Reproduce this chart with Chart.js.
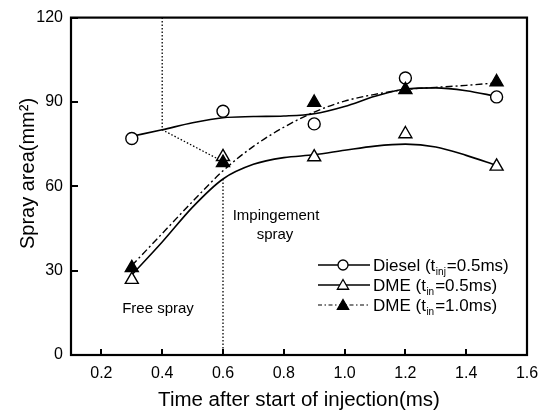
<!DOCTYPE html>
<html><head><meta charset="utf-8">
<script src="https://cdn.jsdelivr.net/npm/chart.js@4/dist/chart.umd.min.js"></script>
<style>html,body{margin:0;padding:0;background:#fff;}canvas{display:block;}</style>
</head><body>
<canvas id="c" width="552" height="413" style="width:552px;height:413px"></canvas>
<script>
// ---- data ----
const xTicks = [0.2, 0.4, 0.6, 0.8, 1.0, 1.2, 1.4, 1.6];
const yTicks = [0, 30, 60, 90, 120];

// measured points
const timePts = [0.3, 0.6, 0.9, 1.2, 1.5];
const dieselPts = [77, 86.7, 82.2, 98.5, 91.8];
const dme05Pts = [26.8, 70.5, 70.4, 78.6, 67.1];
const dme10Pts = [31, 68.4, 89.8, 94.3, 97.1];

// fitted curves (as drawn in the reference)
const curveX = [0.3, 0.4, 0.5, 0.6, 0.7, 0.8, 0.9, 1.0, 1.1, 1.2, 1.3, 1.4, 1.5];
const dieselCurve = [77.8, 80.1, 82.6, 84.4, 84.8, 85.0, 85.8, 88.4, 92.0, 94.6, 95.0, 94.0, 92.0];
const dme05Curve = [28.5, 40.2, 52.6, 62.6, 67.8, 70.2, 71.2, 72.8, 74.3, 75.0, 74.0, 71.0, 67.4];
const dme10Curve = [31.8, 43.2, 54.6, 65.5, 74.2, 81.0, 86.4, 90.3, 92.7, 94.4, 95.2, 95.9, 96.8];

// guide lines (free spray / impingement boundary)
const guide1X = [0.4, 0.4, 0.6];
const guide1Y = [120, 80.1, 68.8];
const guide2X = [0.6, 0.6];
const guide2Y = [62.6, 0];

const seriesLabels = ['Diesel', 'DME', 'DME'];
const seriesSubs = ['inj', 'in', 'in'];
const seriesTail = ['=0.5ms)', '=0.5ms)', '=1.0ms)'];

const FONT = "'Liberation Sans', Arial, sans-serif";
const pts = (xs, ys) => xs.map((x, i) => ({x: x, y: ys[i]}));

const lineBase = {showLine: true, pointRadius: 0, borderColor: '#000', backgroundColor: '#000', fill: false, order: 2};

const datasets = [
  Object.assign({}, lineBase, {label: 'g1', data: pts(guide1X, guide1Y), borderWidth: 1.3, borderDash: [1.5, 2], tension: 0, order: 3}),
  Object.assign({}, lineBase, {label: 'g2', data: pts(guide2X, guide2Y), borderWidth: 1.3, borderDash: [1.5, 2], tension: 0, order: 3}),
  Object.assign({}, lineBase, {label: 'dc', data: pts(curveX, dieselCurve), borderWidth: 1.6, cubicInterpolationMode: 'monotone'}),
  Object.assign({}, lineBase, {label: 'd05c', data: pts(curveX, dme05Curve), borderWidth: 1.6, cubicInterpolationMode: 'monotone'}),
  Object.assign({}, lineBase, {label: 'd10c', data: pts(curveX, dme10Curve), borderWidth: 1.4, borderDash: [7, 3, 2, 3], cubicInterpolationMode: 'monotone'}),
  {label: 'Diesel', data: pts(timePts, dieselPts), showLine: false, pointStyle: 'circle', pointRadius: 6, pointBorderWidth: 1.4, pointBorderColor: '#000', pointBackgroundColor: '#fff', order: 1},
  {label: 'DME05', data: pts(timePts, dme05Pts), showLine: false, pointStyle: 'triangle', pointRadius: 7.5, pointBorderWidth: 1.4, pointBorderColor: '#000', pointBackgroundColor: '#fff', order: 1},
  {label: 'DME10', data: pts(timePts, dme10Pts), showLine: false, pointStyle: 'triangle', pointRadius: 7.5, pointBorderWidth: 1.4, pointBorderColor: '#000', pointBackgroundColor: '#000', order: 0}
];

function drawMarker(ctx, style, x, y, r, fill) {
  ctx.save();
  ctx.lineWidth = 1.3; ctx.strokeStyle = '#000'; ctx.fillStyle = fill;
  ctx.beginPath();
  if (style === 'circle') {
    ctx.arc(x, y, r, 0, Math.PI * 2);
  } else {
    ctx.moveTo(x, y - r);
    ctx.lineTo(x + r * Math.sin(2 * Math.PI / 3), y - r * Math.cos(2 * Math.PI / 3));
    ctx.lineTo(x + r * Math.sin(4 * Math.PI / 3), y - r * Math.cos(4 * Math.PI / 3));
    ctx.closePath();
  }
  ctx.fill(); ctx.stroke();
  ctx.restore();
}

const decor = {
  id: 'decor',
  afterDraw(chart) {
    const ctx = chart.ctx, a = chart.chartArea;
    const xs = chart.scales.x, ys = chart.scales.y;
    ctx.save();
    // frame
    ctx.strokeStyle = '#000'; ctx.lineWidth = 2.2;
    ctx.strokeRect(a.left, a.top, a.right - a.left, a.bottom - a.top);
    // inward ticks
    ctx.lineWidth = 2;
    ctx.beginPath();
    xTicks.forEach(v => {
      const px = Math.round(xs.getPixelForValue(v));
      ctx.moveTo(px, a.bottom); ctx.lineTo(px, a.bottom - 6);
    });
    yTicks.forEach(v => {
      const py = Math.round(ys.getPixelForValue(v));
      ctx.moveTo(a.left, py); ctx.lineTo(a.left + 7, py);
    });
    ctx.stroke();

    // annotation texts
    ctx.fillStyle = '#000';
    ctx.font = '15px ' + FONT;
    ctx.textAlign = 'center'; ctx.textBaseline = 'middle';
    ctx.fillText('Impingement', 276, 216);
    ctx.fillText('spray', 275, 235);
    ctx.fillText('Free spray', 158, 309);

    // y title
    ctx.save();
    ctx.translate(28, 173.5);
    ctx.rotate(-Math.PI / 2);
    ctx.font = '20px ' + FONT;
    ctx.textAlign = 'center'; ctx.textBaseline = 'middle';
    ctx.fillText('Spray area(mm\u00B2)', 0, 0);
    ctx.restore();

    // legend
    const rowsY = [265, 285, 305];
    const styles = ['circle', 'triangle', 'triangle'];
    const fills = ['#fff', '#fff', '#000'];
    rowsY.forEach((y, i) => {
      ctx.save();
      ctx.strokeStyle = '#000';
      ctx.lineWidth = i === 2 ? 1.2 : 1.5;
      if (i === 2) ctx.setLineDash([4, 2.5, 1.5, 2.5]);
      ctx.beginPath(); ctx.moveTo(318, y); ctx.lineTo(370, y); ctx.stroke();
      ctx.restore();
      drawMarker(ctx, styles[i], 343, y + (i ? 1 : 0), i ? 6.5 : 5, fills[i]);
      ctx.textAlign = 'left'; ctx.textBaseline = 'alphabetic';
      ctx.font = '17px ' + FONT;
      let tx = 373;
      const base = y + 6;
      const head = seriesLabels[i] + ' (t';
      ctx.fillText(head, tx, base); tx += ctx.measureText(head).width;
      ctx.font = '10px ' + FONT;
      ctx.fillText(seriesSubs[i], tx + 0.5, base + 4); tx += ctx.measureText(seriesSubs[i]).width + 1.5;
      ctx.font = '17px ' + FONT;
      ctx.fillText(seriesTail[i], tx, base);
    });
    ctx.restore();
  }
};

new Chart(document.getElementById('c'), {
  type: 'line',
  data: {datasets: datasets},
  options: {
    responsive: false,
    animation: false,
    devicePixelRatio: 1,
    layout: {padding: {top: 14, right: 25, left: 0, bottom: 0}},
    plugins: {legend: {display: false}, tooltip: {enabled: false}},
    scales: {
      x: {
        type: 'linear', min: 0.1, max: 1.6,
        afterBuildTicks: s => { s.ticks = xTicks.map(v => ({value: v})); },
        afterFit: s => { s.height = 58; },
        grid: {display: false, drawTicks: false},
        border: {display: false},
        ticks: {color: '#000', font: {size: 16, family: FONT}, padding: 9, maxRotation: 0, autoSkip: false,
                callback: v => Number(v).toFixed(1)},
        title: {display: true, text: 'Time after start of injection(ms)', color: '#000',
                font: {size: 20.5, family: FONT}, padding: {top: 0, bottom: 0}}
      },
      y: {
        type: 'linear', min: 0, max: 120,
        afterBuildTicks: s => { s.ticks = yTicks.map(v => ({value: v})); },
        afterFit: s => { s.width = 71; },
        grid: {display: false, drawTicks: false},
        border: {display: false},
        ticks: {color: '#000', font: {size: 16, family: FONT}, padding: 8, autoSkip: false}
      }
    }
  },
  plugins: [decor]
});
</script>
</body></html>
